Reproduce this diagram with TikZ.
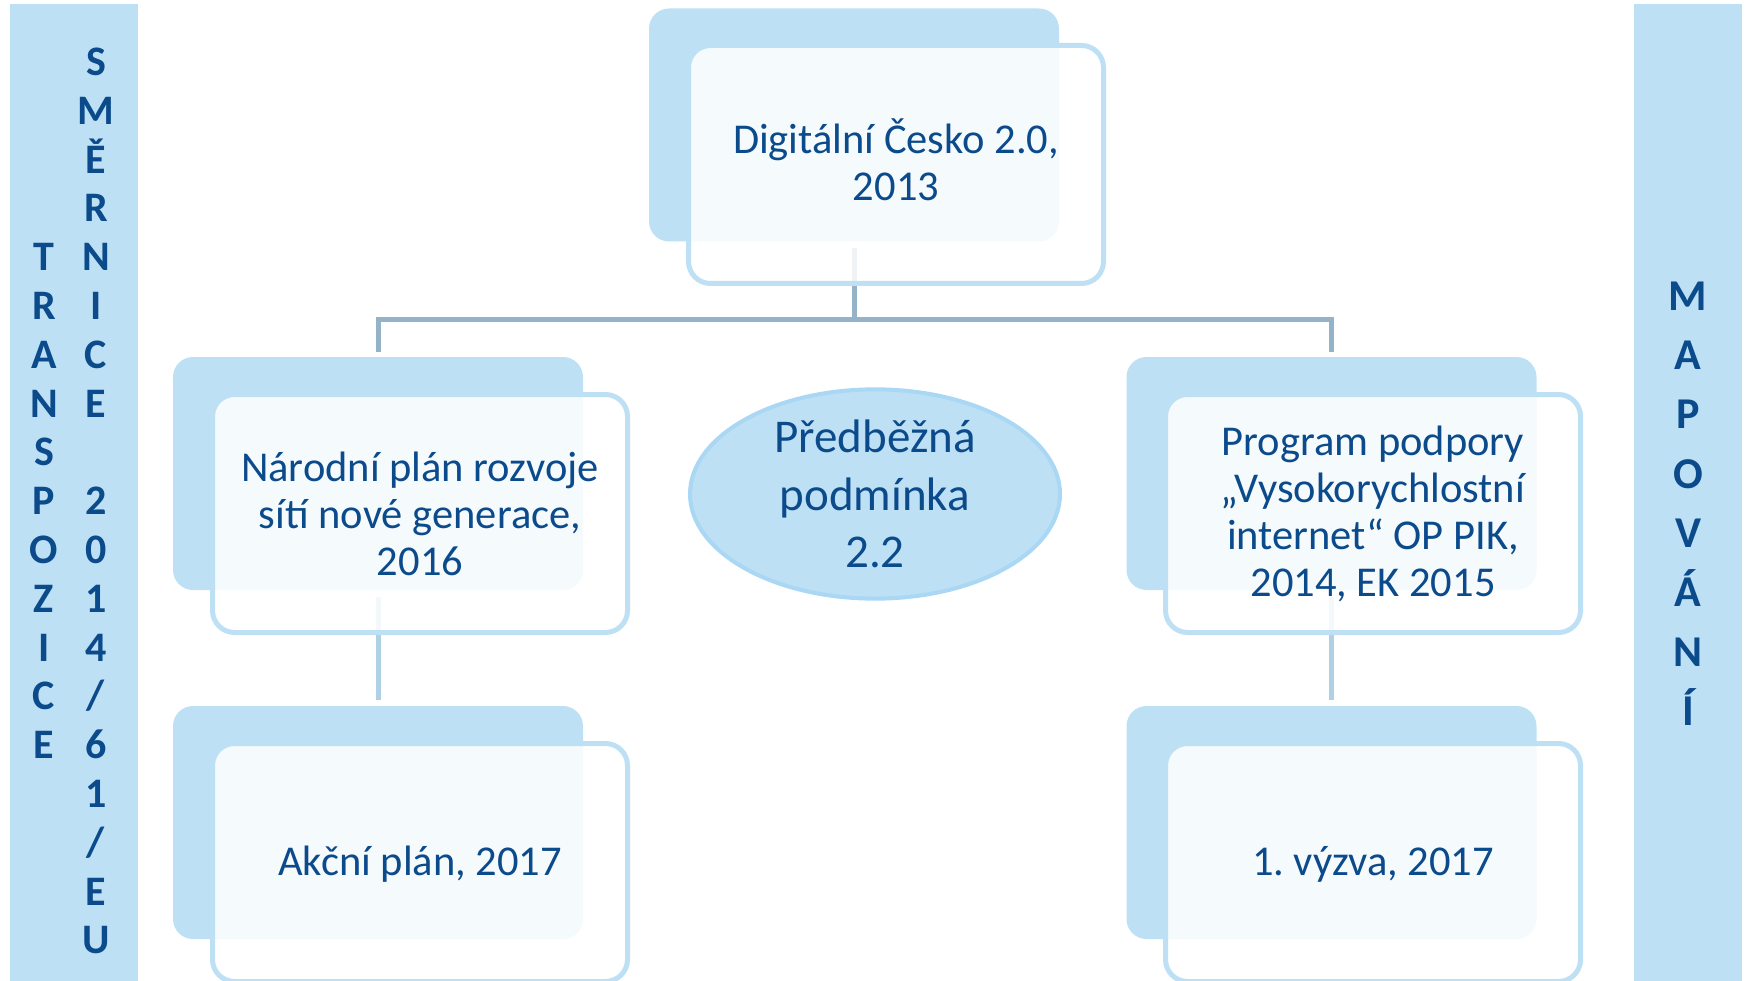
\documentclass[tikz,border=0pt]{standalone}
\usepackage{fontspec}
\setmainfont{Carlito}
\frenchspacing
\usetikzlibrary{shapes.geometric}
\definecolor{lb}{HTML}{BDE0F5}
\definecolor{lbd}{HTML}{A9D7F4}
\definecolor{connc}{HTML}{94B3C9}
\definecolor{conncb}{HTML}{AFD1E6}
\definecolor{txt}{HTML}{0B4A8B}
\begin{document}
\begin{tikzpicture}[x=1pt,y=-1pt,
 bar/.style={fill=lb, draw=none, inner sep=0pt, anchor=north west},
 backbox/.style={fill=lb, draw=none, rounded corners=20pt, minimum width=410pt, minimum height=233pt, inner sep=0pt},
 frontbox/.style={draw=lb, line width=5pt, fill=white, fill opacity=0.85, rounded corners=22pt, minimum width=415pt, minimum height=238pt, inner sep=0pt},
 lbl/.style={text=txt, align=center, font=\fontsize{42.5}{47}\selectfont, inner sep=0pt},
 side/.style={text=txt, align=center, font=\bfseries\fontsize{42}{48.8}\selectfont, inner sep=0pt},
 sideb/.style={text=txt, align=center, font=\bfseries\fontsize{44}{59.3}\selectfont, inner sep=0pt},
 connA/.style={draw=connc, line width=5pt},
 connB/.style={draw=conncb, line width=5pt},
 oval/.style={ellipse, draw=lbd, line width=4pt, fill=lb, minimum width=370pt, minimum height=202pt, inner sep=0pt, text=txt, align=center, font=\fontsize{47}{57.5}\selectfont},
]
\useasboundingbox (0,0) rectangle (1747,981);
% side bars
\node[bar, minimum width=128pt, minimum height=978pt] (lbar) at (10,4) {};
\node[bar, minimum width=108pt, minimum height=978pt] (rbar) at (1634,4) {};
\node[side] (tr) at (44,501) {T\\R\\A\\N\\S\\P\\O\\Z\\I\\C\\E};
\node[side] (sm) at (96,501) {S\\M\\Ě\\R\\N\\I\\C\\E\\~\\2\\0\\1\\4\\/\\6\\1\\/\\E\\U};
\node[sideb] (map) at (1688,503.5) {M\\A\\P\\O\\V\\Á\\N\\Í};
% back boxes
\node[backbox] (tb) at (854,125) {};
\node[backbox] (ml) at (378,473.5) {};
\node[backbox] (mr) at (1331.5,473.5) {};
\node[backbox] (ll) at (378,822.5) {};
\node[backbox] (lr) at (1331.5,822.5) {};
% connectors
\draw[connA, shorten <=6pt, shorten >=5pt] (tb.south) -- ++(0,77.5) -| (ml.north);
\draw[connA, shorten <=6pt, shorten >=5pt] (tb.south) -- ++(0,77.5) -| (mr.north);
\draw[connB, shorten <=7pt, shorten >=6pt] (ml.south) -- (ll.north);
\draw[connB, shorten <=7pt, shorten >=6pt] (mr.south) -- (lr.north);
% front boxes
\node[frontbox] (ft) at (896,164.5) {};
\node[frontbox] (fml) at (420,513.5) {};
\node[frontbox] (fmr) at (1373,513.5) {};
\node[frontbox] (fll) at (420,862.5) {};
\node[frontbox] (flr) at (1373,862.5) {};
% texts
\node[lbl] (t1) at ([yshift=4.5pt]ft.center) {Digitální Česko 2.0,\\2013};
\node[lbl] (t2) at (fml.center) {Národní plán rozvoje\\sítí nové generace,\\2016};
\node[lbl] (t3) at (fmr.center) {Program podpory\\„Vysokorychlostní\\internet“ OP PIK,\\2014, EK 2015};
\node[lbl] (t4) at ([yshift=-2pt]fll.center) {Akční plán, 2017};
\node[lbl] (t5) at ([yshift=-2pt]flr.center) {1. výzva, 2017};
% ellipse
\node[oval] (el) at (875,494) {Předběžná\\podmínka\\2.2};
\end{tikzpicture}
\end{document}
